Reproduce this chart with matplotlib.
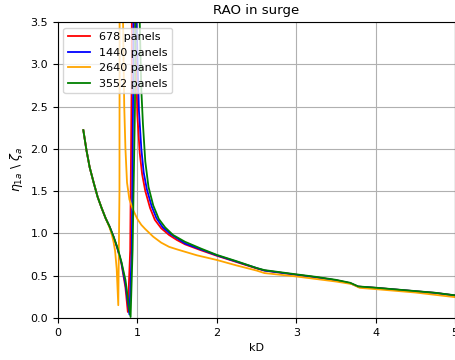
import matplotlib
matplotlib.use("Agg")
import matplotlib.pyplot as plt

plt.rcParams['font.size'] = 8

# RAO in surge for four mesh refinements
kd_678 = [0.32, 0.36, 0.40, 0.45, 0.50, 0.55, 0.60, 0.65, 0.70, 0.75, 0.80, 0.85, 0.88,
          0.91, 0.93, 0.95, 0.97, 1.00, 1.03, 1.06, 1.10, 1.16, 1.22, 1.30, 1.40, 1.50,
          1.60, 1.80, 2.00, 2.25, 2.50, 2.60, 2.80, 3.00, 3.25, 3.50, 3.68, 3.78, 4.00,
          4.25, 4.50, 4.75, 5.00]
rao_678 = [2.22, 1.98, 1.78, 1.60, 1.43, 1.30, 1.18, 1.08, 0.96, 0.82, 0.64, 0.36, 0.07,
           0.80, 3.00, 20.0, 3.50, 2.40, 1.95, 1.70, 1.50, 1.30, 1.16, 1.06, 0.98, 0.92,
           0.87, 0.80, 0.735, 0.66, 0.585, 0.56, 0.535, 0.51, 0.48, 0.445, 0.41, 0.37, 0.355,
           0.335, 0.315, 0.295, 0.265]

kd_1440 = [0.32, 0.36, 0.40, 0.45, 0.50, 0.55, 0.60, 0.65, 0.70, 0.75, 0.80, 0.85, 0.90,
           0.93, 0.95, 0.97, 0.99, 1.02, 1.05, 1.08, 1.12, 1.18, 1.24, 1.32, 1.42, 1.52,
           1.60, 1.80, 2.00, 2.25, 2.50, 2.60, 2.80, 3.00, 3.25, 3.50, 3.68, 3.78, 4.00,
           4.25, 4.50, 4.75, 5.00]
rao_1440 = [2.22, 1.98, 1.78, 1.60, 1.43, 1.30, 1.18, 1.08, 0.96, 0.82, 0.65, 0.40, 0.04,
            0.80, 3.00, 20.0, 3.50, 2.45, 2.00, 1.72, 1.52, 1.32, 1.18, 1.07, 0.99, 0.93,
            0.88, 0.81, 0.74, 0.665, 0.59, 0.56, 0.535, 0.51, 0.48, 0.445, 0.41, 0.37, 0.355,
            0.335, 0.315, 0.295, 0.265]

kd_2640 = [0.32, 0.36, 0.40, 0.45, 0.50, 0.55, 0.60, 0.65, 0.68, 0.70, 0.72, 0.74, 0.76,
           0.775, 0.79, 0.805, 0.82, 0.835, 0.85, 0.87, 0.90, 0.95, 1.00, 1.05, 1.10,
           1.20, 1.30, 1.40, 1.50, 1.75, 2.00, 2.25, 2.50, 2.60, 3.00, 3.50, 3.70, 3.80,
           4.00, 4.50, 5.00]
rao_2640 = [2.22, 1.98, 1.78, 1.60, 1.43, 1.30, 1.18, 1.07, 0.98, 0.90, 0.79, 0.58, 0.15,
            1.50, 20.0, 5.00, 3.50, 2.50, 2.00, 1.60, 1.40, 1.27, 1.17, 1.10, 1.05,
            0.96, 0.89, 0.84, 0.81, 0.74, 0.685, 0.62, 0.56, 0.53, 0.49, 0.43, 0.40, 0.355,
            0.34, 0.30, 0.245]

kd_3552 = [0.32, 0.36, 0.40, 0.45, 0.50, 0.55, 0.60, 0.65, 0.70, 0.75, 0.80, 0.85, 0.89,
           0.915, 0.94, 0.97, 0.985, 1.00, 1.01, 1.03, 1.05, 1.07, 1.10, 1.14, 1.20, 1.27,
           1.35, 1.45, 1.60, 1.80, 2.00, 2.25, 2.50, 2.60, 2.80, 3.00, 3.25, 3.50, 3.68,
           3.78, 4.00, 4.25, 4.50, 4.75, 5.00]
rao_3552 = [2.22, 1.98, 1.78, 1.60, 1.43, 1.30, 1.18, 1.08, 0.96, 0.83, 0.66, 0.45, 0.16,
            0.01, 0.80, 2.50, 5.00, 20.0, 8.00, 3.50, 2.70, 2.30, 1.85, 1.55, 1.33, 1.17,
            1.07, 0.98, 0.90, 0.82, 0.745, 0.67, 0.59, 0.565, 0.54, 0.515, 0.485, 0.45, 0.415,
            0.372, 0.357, 0.337, 0.317, 0.297, 0.267]

fig = plt.figure(figsize=(4.56, 3.6), dpi=100)
ax = fig.add_subplot(111)
fig.subplots_adjust(left=0.127, right=0.998, bottom=0.117, top=0.939)

ax.plot(kd_678, rao_678, color='red', lw=1.3, label='678 panels')
ax.plot(kd_1440, rao_1440, color='blue', lw=1.3, label='1440 panels')
ax.plot(kd_2640, rao_2640, color='orange', lw=1.3, label='2640 panels')
ax.plot(kd_3552, rao_3552, color='green', lw=1.3, label='3552 panels')

ax.set_xlim(0, 5)
ax.set_ylim(0, 3.5)
ax.set_title('RAO in surge')
ax.set_xlabel('kD')
ax.set_ylabel(r'$\eta_{1a}$ \ $\zeta_a$', fontsize=9)
ax.grid()
ax.legend(loc='upper left')

fig.savefig('out.png', dpi=100)
